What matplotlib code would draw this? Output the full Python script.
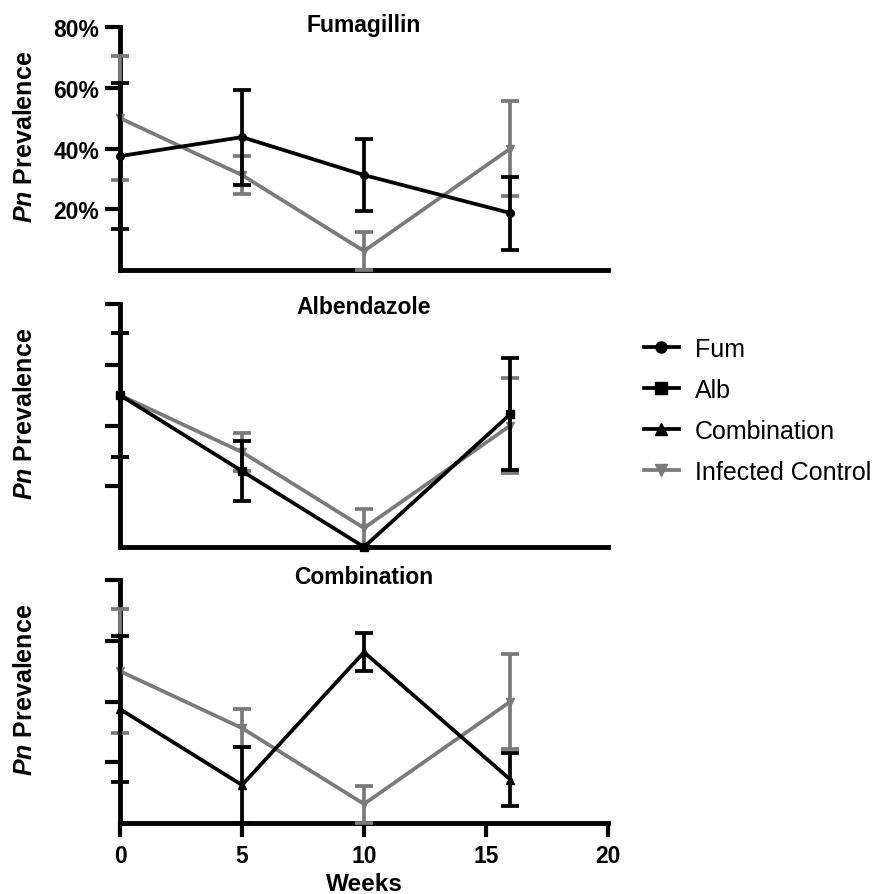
import matplotlib
matplotlib.use("Agg")
import matplotlib.pyplot as plt
from matplotlib.lines import Line2D

plt.rcParams['font.family'] = ['Liberation Sans', 'DejaVu Sans']
plt.rcParams['mathtext.fontset'] = 'custom'
plt.rcParams['mathtext.it'] = 'Liberation Sans:italic:bold'
plt.rcParams['mathtext.rm'] = 'Liberation Sans:bold'

# ---- data ----
weeks = [0, 5, 10, 16]
control = [50, 31.25, 6.25, 40]
control_err = [20.4, 6.2, 6.1, 15.5]
fum = [37.5, 43.75, 31.25, 18.75]
fum_err = [24, 15.6, 11.8, 12]
alb = [50, 25, 0, 43.75]
alb_err = [20.4, 10, 0, 18.5]
combo = [37.5, 12.5, 56.25, 14.3]
combo_err = [24, 12.5, 6.2, 8.7]

panel_titles = ["Fumagillin", "Albendazole", "Combination"]
treat_series = [fum, alb, combo]
treat_errs = [fum_err, alb_err, combo_err]
treat_markers = ['o', 's', '^']
legend_labels = ["Fum", "Alb", "Combination", "Infected Control"]
yticks = [20, 40, 60, 80]
ytick_labels = ["20%", "40%", "60%", "80%"]
xticks = [0, 5, 10, 15, 20]

GRAY = '#7a7a7a'
LW = 2.7

fig = plt.figure(figsize=(8.78, 8.95), dpi=100)
left, width = 0.1367, 0.5558
bottoms = [0.6972, 0.3877, 0.0793]
height = 0.2715
title_y = [1.012, 0.988, 1.016]

for i in range(3):
    ax = fig.add_axes([left, bottoms[i], width, height])
    ax.errorbar(weeks, control, yerr=control_err, color=GRAY, marker='v',
                markersize=5.5, lw=LW, elinewidth=LW, capsize=6.5, capthick=LW,
                clip_on=False, zorder=3)
    ax.errorbar(weeks, treat_series[i], yerr=treat_errs[i], color='black',
                marker=treat_markers[i], markersize=5.5, lw=LW, elinewidth=LW,
                capsize=6.5, capthick=LW, clip_on=False, zorder=4)
    for art in ax.get_children():
        try:
            art.set_clip_on(False)
        except Exception:
            pass
    ax.set_xlim(0, 20)
    ax.set_ylim(0, 80)
    for s in ['top', 'right']:
        ax.spines[s].set_visible(False)
    for s in ['left', 'bottom']:
        ax.spines[s].set_linewidth(3.5)
        ax.spines[s].set_zorder(2)
        ax.spines[s].set_capstyle('projecting')
    ax.set_yticks(yticks)
    ax.tick_params(axis='y', direction='out', length=11, width=3, pad=4)
    if i == 0:
        ax.set_yticklabels(ytick_labels, fontsize=16.5, fontweight='bold')
    else:
        ax.set_yticklabels([])
    if i == 2:
        ax.set_xticks(xticks)
        ax.set_xticklabels([str(t) for t in xticks], fontsize=16.5, fontweight='bold')
        ax.tick_params(axis='x', direction='out', length=10, width=3, pad=5)
        ax.set_xlabel("Weeks", fontsize=17.5, fontweight='bold', labelpad=4)
    else:
        ax.set_xticks([])
    ax.set_ylabel(r"$\mathit{Pn}$ Prevalence", fontsize=18, fontweight='bold')
    ax.yaxis.set_label_coords(-0.17, 0.55)
    ax.text(0.5, title_y[i], panel_titles[i], transform=ax.transAxes,
            ha='center', va='center', fontsize=16.5, fontweight='bold')

handles = [
    Line2D([], [], color='black', marker='o', markersize=8, lw=LW),
    Line2D([], [], color='black', marker='s', markersize=8, lw=LW),
    Line2D([], [], color='black', marker='^', markersize=8, lw=LW),
    Line2D([], [], color=GRAY, marker='v', markersize=8, lw=LW),
]
fig.legend(handles, legend_labels, loc='center left', bbox_to_anchor=(0.722, 0.540),
           frameon=False, fontsize=18, handlelength=1.4, handletextpad=0.65,
           labelspacing=0.68, borderaxespad=0.0)

fig.savefig("out.png", dpi=100)
